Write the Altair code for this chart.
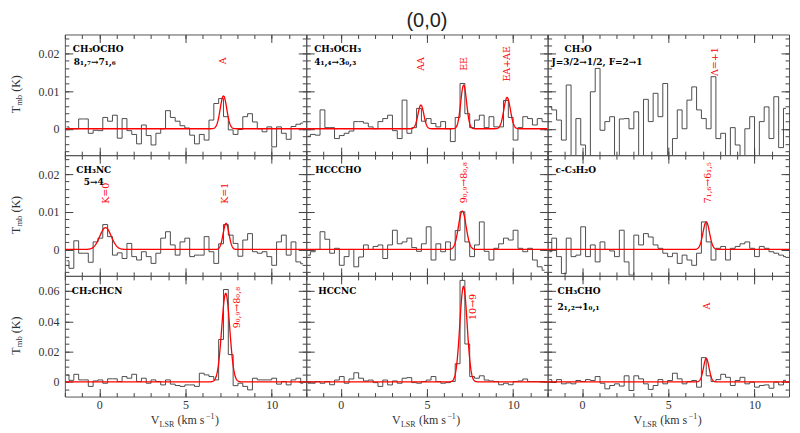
import altair as alt
import numpy as np
import pandas as pd

# ---------------- data ----------------
# channel velocities (km/s)
V = [-1.90, -1.62, -1.34, -1.06, -0.78, -0.50, -0.22, 0.06, 0.34, 0.62,
     0.90, 1.18, 1.46, 1.74, 2.02, 2.30, 2.58, 2.86, 3.14, 3.42,
     3.70, 3.98, 4.26, 4.54, 4.82, 5.10, 5.38, 5.66, 5.94, 6.22,
     6.50, 6.78, 7.06, 7.34, 7.62, 7.90, 8.18, 8.46, 8.74, 9.02,
     9.30, 9.58, 9.86, 10.14, 10.42, 10.70, 10.98, 11.26, 11.54, 11.82]

# spectra, Tmb in mK
S_CH3OCHO = [0.5, 0, 0, 2.6, 2.6, -1.2, -0.4, -0.5, 3.0, 2.0,
             3.6, -2.5, 2.7, -0.5, -1.5, -4.0, 1.0, -1.8, -4.3, -1.2,
             0.0, 4.8, 3.0, 2.0, 0.8, 0.2, -1.7, -4.0, -1.5, -3.0,
             2.3, 6.7, 8.0, 3.2, -0.3, -1.5, -0.2, 3.2, 4.0, 1.8,
             0.0, -0.8, 0.5, -4.8, 0.5, -1.2, -2.8, 0.6, 1.2, 1.5]
S_CH3OCH3 = [-2.0, -1.5, -1.7, 5.0, 0.3, 0.3, -2.6, -1.8, -1.2, -0.6,
             1.9, 1.9, 1.5, 0.5, 0.0, 1.9, 2.7, 3.6, -0.5, -2.6,
             7.6, -1.2, 0.3, 5.4, 2.0, 2.7, 1.4, 0.5, 1.9, 0.0,
             -3.4, 3.0, 12.0, 4.0, 0.3, 2.3, 3.6, 0.3, 3.2, 0.5,
             0.5, 7.5, 3.0, -3.0, 0.3, 3.2, 2.7, 1.0, 2.7, 1.9]
S_CH3O = [5.8, 5.0, 2.3, -3.0, 11.6, -8.0, 2.7, -4.3, -8.0, 9.8,
          16.0, -0.4, 1.9, 3.2, -8.0, 2.6, 2.7, 0.0, 4.5, -8.0,
          7.8, 1.9, 9.4, 3.2, 12.0, -8.0, -2.6, 5.0, 0.0, 7.6,
          11.1, 5.0, 2.7, 0.0, 13.8, -2.6, -1.2, -8.0, 0.3, -4.3,
          -8.0, 0.0, 3.2, -8.0, 1.9, 5.8, -2.6, 8.5, -5.0, 5.4]
S_CH3NC = [-3.0, -5.0, 2.3, -1.0, -1.0, -3.4, 2.0, 3.0, 6.6, 3.4,
           -1.5, -0.9, -2.4, 1.6, -1.9, -2.8, -0.6, -1.9, -3.7, -1.0,
           3.0, 4.7, 1.2, -1.5, 2.0, 3.0, -1.9, -1.5, -1.5, 3.4,
           -0.6, -3.7, 1.5, 6.6, 3.8, 1.6, -1.8, 2.5, 4.2, -0.6,
           -1.0, -0.6, -1.9, -4.2, 2.0, 3.8, -1.5, 2.0, -3.3, -3.8]
S_HCCCHO = [-1.5, -0.6, 0.0, 4.7, 2.7, -1.0, 0.3, -4.2, -1.9, 0.0,
            -4.6, -2.0, 1.2, 0.0, 0.8, 1.2, -2.4, 1.2, 5.1, 1.5,
            2.0, 3.0, 0.5, -0.5, 1.5, 6.0, -2.8, 1.5, -0.6, 2.0,
            -2.8, 5.0, 10.0, 2.0, -1.9, 1.2, 7.3, -0.5, -2.8, 0.3,
            1.5, 3.0, 2.5, 5.1, 0.3, -0.6, 0.3, -2.8, -4.6, -5.5]
S_CC3H2O = [-0.6, 3.0, -1.9, -6.4, 3.0, -1.9, -1.5, 6.0, -1.9, 1.2,
            -3.3, 2.0, 0.0, -0.4, -1.9, 5.1, -3.3, -6.8, 3.8, 1.2,
            4.2, 3.3, 1.2, 0.3, -1.0, -1.9, -1.0, -3.7, -1.5, -2.8,
            -4.2, -1.0, 7.3, 2.0, -2.8, 0.3, 0.8, -2.8, 0.3, 0.8,
            1.5, 2.0, 0.3, -1.9, 0.8, 0.3, -0.6, -1.0, -1.5, -1.9]
S_CH2CHCN = [4.6, 1.0, 5.0, 1.3, 1.3, -3.0, 0.6, 1.3, -0.9, 2.0,
             2.0, 0.2, 3.5, 2.4, 5.0, 0.2, 2.4, -0.9, 1.3, 0.2,
             -2.0, 1.3, -1.5, -2.4, -3.0, -2.0, -2.0, -3.0, 5.7, 4.6,
             3.5, 1.3, 28.0, 61.0, 18.0, -2.5, -0.9, -3.0, -5.3, 2.4,
             1.3, 1.3, 1.3, 2.4, -1.5, 0.2, -2.0, 1.3, 2.4, -0.9]
S_HCCNC = [-0.9, -0.9, 0.2, -0.9, 0.2, -1.9, 1.2, 3.5, -0.9, 1.9,
           6.0, 2.4, 0.6, 1.2, -0.5, -3.0, 1.2, -2.0, 0.6, -0.9,
           2.4, 2.8, -0.5, -0.9, 0.2, 1.2, 3.5, 0.2, -0.9, -0.5,
           0.2, 12.0, 67.0, 25.0, 3.5, 2.4, 4.0, 1.2, 0.6, 0.2,
           -1.9, -0.9, -1.9, 0.2, 0.6, 1.9, 0.2, 0.2, 0.2, 0.2]
S_CH3CHO = [1.5, -0.4, 1.5, -1.3, -0.7, -1.3, 0.9, 0.2, 1.5, 0.9,
            3.5, -0.9, -4.6, -2.4, -1.3, -2.8, 4.0, -5.7, 4.0, 2.0,
            -1.3, -5.0, -2.4, 1.5, -1.3, 0.9, 5.7, 2.0, -1.3, 0.2,
            0.9, -3.5, 16.0, 4.0, 0.2, 1.5, 5.0, 3.0, -2.4, 0.9,
            3.0, -1.3, -0.2, -3.5, -2.4, -2.0, -4.2, -0.2, -2.0, 1.0]

SPECTRA = [S_CH3OCHO, S_CH3OCH3, S_CH3O, S_CH3NC, S_HCCCHO, S_CC3H2O,
           S_CH2CHCN, S_HCCNC, S_CH3CHO]

# Gaussian fit components: (centre km/s, peak mK, FWHM km/s)
FITS = [
    [(7.20, 8.7, 0.45)],
    [(4.65, 6.3, 0.40), (7.13, 11.6, 0.40), (9.65, 8.3, 0.45)],
    [],
    [(0.36, 5.8, 0.78), (7.35, 6.9, 0.40)],
    [(7.05, 10.2, 0.52)],
    [(7.20, 7.3, 0.45)],
    [(7.33, 58.5, 0.55)],
    [(7.12, 63.0, 0.50)],
    [(7.20, 15.5, 0.38)],
]

# red line labels: (text, velocity, Tmb K)
RED = [
    [("A", 7.2, 0.018)],
    [("AA", 4.65, 0.0172), ("EE", 7.13, 0.0172), ("EA+AE", 9.65, 0.0172)],
    [("Λ=+1", 7.7, 0.0178)],
    [("K=0", 0.36, 0.0149), ("K=1", 7.3, 0.0149)],
    [("9₀,₉→8₀,₈", 7.15, 0.0177)],
    [("7₁,₆→6₁,₅", 7.3, 0.0177)],
    [("9₀,₉→8₀,₈", 8.0, 0.049)],
    [("10→9", 7.7, 0.0495)],
    [("A", 7.25, 0.050)],
]

# molecule / transition labels: (text, x px, y px, align)
BLACK = [
    [("CH₃OCHO", 8, 18, "left"), ("8₁,₇→7₁,₆", 9, 31, "left")],
    [("CH₃OCH₃", 8, 18, "left"), ("4₁,₄→3₀,₃", 8, 31, "left")],
    [("CH₃O", 17, 18, "left"), ("J=3/2→1/2, F=2→1", 4, 31, "left")],
    [("CH₃NC", 29, 18, "center"), ("5→4", 29, 30, "center")],
    [("HCCCHO", 9, 18, "left")],
    [("c-C₃H₂O", 8, 18, "left")],
    [("CH₂CHCN", 7, 18, "left")],
    [("HCCNC", 12, 18, "left")],
    [("CH₃CHO", 10, 18, "left"), ("2₁,₂→1₀,₁", 10, 34, "left")],
]

TITLE = "(0,0)"

X_DOM = [-2, 12]
X_MAJ = [0, 5, 10]
X_MIN = [-2, -1, 0, 1, 2, 3, 4, 5, 6, 7, 8, 9, 10, 11, 12]
Y_DOM_TOP = [-0.007, 0.025]
Y_MAJ_TOP = [0, 0.01, 0.02]
Y_MIN_TOP = [-0.006, -0.004, -0.002, 0, 0.002, 0.004, 0.006, 0.008, 0.01,
             0.012, 0.014, 0.016, 0.018, 0.02, 0.022, 0.024]
Y_DOM_BOT = [-0.0097, 0.07]
Y_MAJ_BOT = [0, 0.02, 0.04, 0.06]
Y_MIN_BOT = [-0.005, 0, 0.005, 0.01, 0.015, 0.02, 0.025, 0.03, 0.035, 0.04,
             0.045, 0.05, 0.055, 0.06, 0.065]

# ---------------- style ----------------
W, H = 242, 121
FONT = "Liberation Serif"
LFONT = "DejaVu Serif"
FRAME = "#555555"
TICK = "#444444"
VF = np.round(np.arange(-2.0, 12.0001, 0.02), 3)


def fit_curve(comps):
    y = np.zeros_like(VF)
    for c, a, w in comps:
        s = w / 2.3548
        y = y + a * np.exp(-0.5 * ((VF - c) / s) ** 2)
    return y / 1000.0


def axis(orient, values, size, labels=False, pad=2, fmt=None):
    kw = dict(orient=orient, values=values, tickSize=size, offset=-size,
              domain=False, grid=False, labels=labels, title=None,
              ticks=True, tickColor=TICK, tickWidth=1)
    if labels:
        kw.update(labelFont=FONT, labelFontSize=12, labelColor="#333333",
                  labelPadding=pad)
        if fmt:
            kw["format"] = fmt
    return alt.Axis(**kw)


def txt(s, x, y, size=10.0, color="black", align="left", baseline="alphabetic",
        angle=0, weight="normal", font=FONT):
    mk = dict(align=align, baseline=baseline, font=font, fontSize=size,
              color=color, fontWeight=weight)
    if angle:
        mk["angle"] = angle
    return alt.Chart(pd.DataFrame({"s": [s]})).mark_text(**mk).encode(
        x=alt.value(x), y=alt.value(y), text="s:N")


def panel(k):
    row, col = divmod(k, 3)
    bottom = row == 2
    ydom = Y_DOM_BOT if bottom else Y_DOM_TOP
    ymaj = Y_MAJ_BOT if bottom else Y_MAJ_TOP
    ymin = Y_MIN_BOT if bottom else Y_MIN_TOP
    xs = alt.Scale(domain=X_DOM, nice=False, zero=False)
    ys = alt.Scale(domain=ydom, nice=False, zero=False)
    df = pd.DataFrame({"v": V, "t": [t / 1000.0 for t in SPECTRA[k]]})
    base = alt.Chart(df)

    def X(ax):
        return alt.X("v:Q", scale=xs, axis=ax)

    def Y(ax):
        return alt.Y("t:Q", scale=ys, axis=ax)

    layers = [
        base.mark_line(opacity=0).encode(x=X(axis("top", X_MAJ, 8)),
                                         y=Y(axis("right", ymaj, 8))),
        base.mark_line(opacity=0).encode(x=X(axis("bottom", X_MIN, 4)),
                                         y=Y(axis("left", ymin, 4))),
        base.mark_line(opacity=0).encode(x=X(axis("top", X_MIN, 4)),
                                         y=Y(axis("right", ymin, 4))),
        base.mark_line(interpolate="step", color="#3a3a3a", strokeWidth=0.9,
                       clip=True).encode(
            x=X(axis("bottom", X_MAJ, 8, labels=bottom, pad=3)),
            y=Y(axis("left", ymaj, 8, labels=(col == 0), pad=6, fmt=".2~f"))),
    ]
    if FITS[k]:
        fdf = pd.DataFrame({"v": VF, "t": fit_curve(FITS[k])})
        layers.append(alt.Chart(fdf).mark_line(color="#ff0000", strokeWidth=1.3,
                                               clip=True).encode(
            x=alt.X("v:Q", scale=xs, axis=None),
            y=alt.Y("t:Q", scale=ys, axis=None)))
    rdf = pd.DataFrame({"s": [r[0] for r in RED[k]],
                        "v": [r[1] for r in RED[k]],
                        "t": [r[2] for r in RED[k]]})
    layers.append(alt.Chart(rdf).mark_text(angle=270, align="center",
                                           baseline="middle", color="#ff0000",
                                           font=LFONT, fontSize=9.5).encode(
        x=alt.X("v:Q", scale=xs, axis=None),
        y=alt.Y("t:Q", scale=ys, axis=None),
        text="s:N"))
    for s, x, y, al in BLACK[k]:
        layers.append(txt(s, x, y, size=9, align=al, weight="bold", font=LFONT))
    if col == 0:
        layers.append(txt("T", -49, 79, size=12, baseline="middle", angle=270,
                          color="#333333"))
        layers.append(txt("mb", -45.5, 71.5, size=8.5, baseline="middle",
                          angle=270, color="#333333"))
        layers.append(txt("(K)", -49, 57.5, size=12, baseline="middle",
                          angle=270, color="#333333"))
    if bottom:
        layers.append(txt("V", 86, 149, size=12, color="#333333"))
        layers.append(txt("LSR", 95, 152, size=8, color="#333333"))
        layers.append(txt("(km s", 113, 149, size=12, color="#333333"))
        layers.append(txt("−1", 141.5, 144, size=8, color="#333333"))
        layers.append(txt(")", 150.5, 149, size=12, color="#333333"))
    if k == 1:
        layers.append(txt(TITLE, 121, -13, size=20, align="center",
                          baseline="middle", font="Liberation Sans",
                          color="#222222"))
    return alt.layer(*layers).resolve_axis(x="independent", y="independent") \
        .properties(width=W, height=H)


chart = alt.concat(*[panel(k) for k in range(9)], columns=3, spacing=0,
                   bounds="flush").configure_view(
    stroke=FRAME, strokeWidth=1).properties(
    padding={"left": 1, "top": 2, "right": 2, "bottom": 2})

chart.save("out.html", embed_options={"renderer": "svg", "actions": False})
